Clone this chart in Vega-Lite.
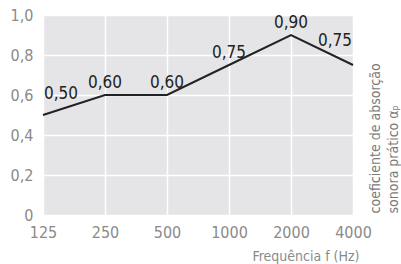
{
  "$schema": "https://vega.github.io/schema/vega-lite/v6.json",
  "width": 310,
  "height": 200,
  "autosize": {"type": "none"},
  "padding": {"left": 43, "top": 15, "right": 48, "bottom": 49},
  "config": {
    "locale": {"number": {"decimal": ",", "thousands": ".", "grouping": [3], "currency": ["", "€"]}},
    "view": {"fill": "#e5e5e7", "stroke": null},
    "font": "DejaVu Sans Condensed, Liberation Sans, sans-serif"
  },
  "data": {"values": [
    {"freq": "125", "alpha": 0.50},
    {"freq": "250", "alpha": 0.60},
    {"freq": "500", "alpha": 0.60},
    {"freq": "1000", "alpha": 0.75},
    {"freq": "2000", "alpha": 0.90},
    {"freq": "4000", "alpha": 0.75}
  ]},
  "encoding": {
    "x": {
      "field": "freq", "type": "ordinal", "sort": null,
      "scale": {"type": "point", "padding": 0},
      "axis": {
        "labelAngle": 0, "domain": false, "ticks": false, "labelPadding": 9,
        "labelFontSize": 16, "labelColor": "#8a8a8a",
        "grid": true, "gridColor": "#ffffff", "gridWidth": 1.5,
        "title": "Frequência f (Hz)", "titleFontSize": 14, "titleFontWeight": "normal",
        "titleColor": "#8a8a8a",
        "titleX": 316, "titleY": 45, "titleAlign": "right", "titleBaseline": "alphabetic", "titleAnchor": null
      }
    },
    "y": {
      "field": "alpha", "type": "quantitative",
      "scale": {"domain": [0, 1]},
      "axis": {
        "values": [0, 0.2, 0.4, 0.6, 0.8, 1.0],
        "labelExpr": "datum.value == 0 ? '0' : replace(format(datum.value, '.1f'), '.', ',')",
        "domain": false, "ticks": false, "labelPadding": 10,
        "labelFontSize": 16, "labelColor": "#8a8a8a",
        "grid": true, "gridColor": "#ffffff", "gridWidth": 1.5,
        "title": ["coeficiente de absorção", "sonora prático αₚ"],
        "titleFontSize": 14, "titleFontWeight": "normal", "titleColor": "#7a7a7a",
        "titleLineHeight": 18,
        "titleAngle": 270, "titleX": 332, "titleY": 198, "titleAlign": "left", "titleBaseline": "middle"
      }
    }
  },
  "layer": [
    {"mark": {"type": "line", "color": "#222222", "strokeWidth": 2}},
    {
      "transform": [{"filter": "datum.freq != '125' && datum.freq != '4000'"}],
      "mark": {"type": "text", "align": "center", "baseline": "alphabetic", "dy": -7, "fontSize": 17, "color": "#222222"},
      "encoding": {"text": {"field": "alpha", "type": "quantitative", "format": ".2f"}}
    },
    {
      "transform": [{"filter": "datum.freq == '125'"}],
      "mark": {"type": "text", "align": "left", "baseline": "alphabetic", "dx": 1, "dy": -16, "fontSize": 17, "color": "#222222"},
      "encoding": {"text": {"field": "alpha", "type": "quantitative", "format": ".2f"}}
    },
    {
      "transform": [{"filter": "datum.freq == '4000'"}],
      "mark": {"type": "text", "align": "right", "baseline": "alphabetic", "dx": -1, "dy": -19, "fontSize": 17, "color": "#222222"},
      "encoding": {"text": {"field": "alpha", "type": "quantitative", "format": ".2f"}}
    }
  ]
}
